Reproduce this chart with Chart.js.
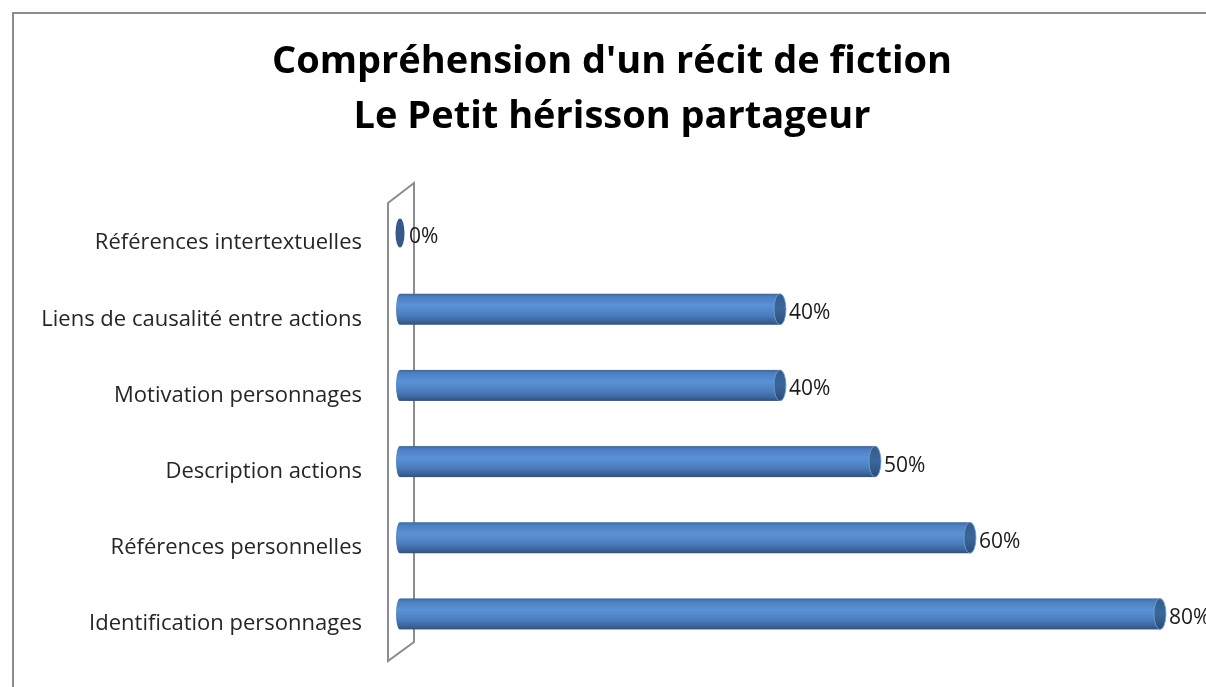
<!DOCTYPE html>
<html>
<head>
<meta charset="utf-8">
<script src="https://cdn.jsdelivr.net/npm/chart.js@4/dist/chart.umd.min.js"></script>
<style>
  html, body { margin: 0; padding: 0; background: #fff; }
  #wrap { width: 1206px; height: 687px; position: relative; }
</style>
</head>
<body>
<div id="wrap"><canvas id="myChart" width="1206" height="687"></canvas></div>
<script>
const FONT = "'Open Sans', Lato, sans-serif";

// données
const titleLines = ["Compréhension d'un récit de fiction", "Le Petit hérisson partageur"];
const categories = [
  "Références intertextuelles",
  "Liens de causalité entre actions",
  "Motivation personnages",
  "Description actions",
  "Références personnelles",
  "Identification personnages"
];
const values = [0, 40, 40, 50, 60, 80];
const BAR_H = 31;

// cadre gris + titre
const framePlugin = {
  id: 'frame',
  beforeDraw(chart) {
    const ctx = chart.ctx;
    ctx.save();
    ctx.fillStyle = '#fff';
    ctx.fillRect(0, 0, chart.width, chart.height);
    ctx.strokeStyle = '#8c8c8c';
    ctx.lineWidth = 2;
    ctx.beginPath();
    ctx.moveTo(13, chart.height);
    ctx.lineTo(13, 13);
    ctx.lineTo(chart.width, 13);
    ctx.stroke();
    ctx.fillStyle = '#000';
    ctx.font = "bold 38px " + FONT;
    ctx.textAlign = 'center';
    ctx.textBaseline = 'middle';
    ctx.fillText(titleLines[0], 612, 62);
    ctx.fillText(titleLines[1], 612, 117);
    ctx.restore();
  }
};

// paroi 3D derrière les barres
const wallPlugin = {
  id: 'wall',
  beforeDatasetsDraw(chart) {
    const ctx = chart.ctx, a = chart.chartArea;
    const x0 = chart.scales.x.getPixelForValue(0);
    ctx.save();
    ctx.strokeStyle = '#8c8c8c';
    ctx.lineWidth = 2;
    ctx.beginPath();
    ctx.moveTo(x0 - 12, a.top + 8);
    ctx.lineTo(x0 + 14, a.top - 12);
    ctx.lineTo(x0 + 14, a.bottom - 10);
    ctx.lineTo(x0 - 12, a.bottom + 9);
    ctx.closePath();
    ctx.stroke();
    ctx.restore();
  }
};

function bodyGradient(ctx, top, bottom) {
  const g = ctx.createLinearGradient(0, top, 0, bottom);
  g.addColorStop(0, '#3b67a2');
  g.addColorStop(0.1, '#4c7fc1');
  g.addColorStop(0.38, '#5a92d7');
  g.addColorStop(0.7, '#4a7cbe');
  g.addColorStop(0.9, '#3a6399');
  g.addColorStop(1, '#2e4f7b');
  return g;
}

// extrémités des cylindres + étiquettes
const cylPlugin = {
  id: 'cyl',
  afterDatasetsDraw(chart) {
    const ctx = chart.ctx;
    const meta = chart.getDatasetMeta(0);
    ctx.save();
    meta.data.forEach((bar, i) => {
      const h = bar.height, yc = bar.y, top = yc - h / 2, bot = yc + h / 2;
      const xs = bar.base, xe = bar.x, rx = 6;
      if (values[i] > 0) {
        // corps
        ctx.fillStyle = bodyGradient(ctx, top, bot);
        ctx.fillRect(xs, top, xe - xs, h);
        // bout gauche
        ctx.beginPath();
        ctx.ellipse(xs, yc, rx - 2, h / 2, 0, Math.PI / 2, Math.PI * 1.5);
        ctx.closePath();
        ctx.fill();
        // bout droit
        ctx.beginPath();
        ctx.ellipse(xe, yc, rx, h / 2, 0, 0, Math.PI * 2);
        const g = ctx.createLinearGradient(0, top, 0, bot);
        g.addColorStop(0, '#335d8c');
        g.addColorStop(0.5, '#3a679c');
        g.addColorStop(1, '#2a4c78');
        ctx.fillStyle = g;
        ctx.fill();
        ctx.strokeStyle = 'rgba(120,160,210,0.8)';
        ctx.lineWidth = 1;
        ctx.stroke();
      } else {
        ctx.beginPath();
        ctx.ellipse(xe, yc, 4.5, h / 2 - 1, 0, 0, Math.PI * 2);
        ctx.fillStyle = '#34598a';
        ctx.fill();
      }
      ctx.fillStyle = '#1a1a1a';
      ctx.font = "21px " + FONT;
      ctx.textAlign = 'left';
      ctx.textBaseline = 'middle';
      ctx.fillText(values[i] + '%', xe + 9, yc + 4);
    });
    ctx.restore();
  }
};

new Chart(document.getElementById('myChart').getContext('2d'), {
  type: 'bar',
  data: {
    labels: categories,
    datasets: [{
      data: values,
      backgroundColor: 'rgba(0,0,0,0)',
      borderWidth: 0,
      barThickness: BAR_H
    }]
  },
  options: {
    indexAxis: 'y',
    responsive: false,
    animation: false,
    layout: { padding: { top: 195, bottom: 35, left: 0, right: 46 } },
    plugins: { legend: { display: false }, tooltip: { enabled: false }, title: { display: false } },
    scales: {
      x: { display: false, min: 0, max: 80 },
      y: {
        grid: { display: false, drawTicks: false },
        border: { display: false },
        afterFit: (s) => { s.width = 400; s.paddingTop = 0; s.paddingBottom = 0; },
        ticks: { padding: 38, labelOffset: 10, color: '#262626', font: { family: FONT, size: 22 } }
      }
    }
  },
  plugins: [framePlugin, wallPlugin, cylPlugin]
});
</script>
</body>
</html>
